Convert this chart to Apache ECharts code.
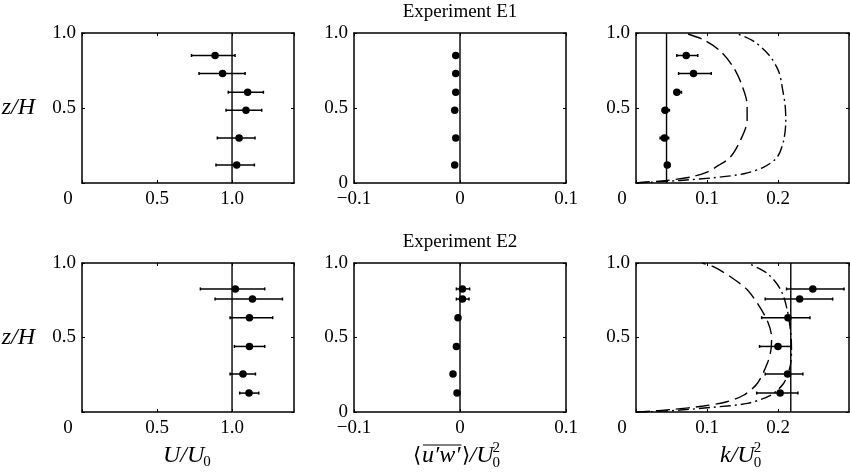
<!DOCTYPE html>
<html><head><meta charset="utf-8">
<script src="https://cdn.jsdelivr.net/npm/echarts/dist/echarts.min.js"></script>
<style>html,body{margin:0;padding:0;background:#fff}#c{width:850px;height:473px}</style>
</head><body><div id="c"></div>
<script>
// ---- data ----
const zE1 = [0.85, 0.73, 0.605, 0.485, 0.30, 0.12];
const zE2 = [0.826, 0.758, 0.633, 0.44, 0.255, 0.127];

const U1   = [0.887, 0.937, 1.104, 1.093, 1.047, 1.031];
const U1lo = [0.73, 0.78, 0.975, 0.96, 0.902, 0.893];
const U1hi = [1.02, 1.087, 1.209, 1.198, 1.153, 1.149];

const uw1  = [-0.004, -0.004, -0.004, -0.005, -0.004, -0.005];

const k1   = [0.0707, 0.081, 0.0575, 0.041, 0.040, 0.044];
const k1lo = [0.0575, 0.060, 0.054, 0.037, 0.034, 0.041];
const k1hi = [0.087, 0.106, 0.064, 0.047, 0.046, 0.047];

const U2   = [1.022, 1.136, 1.116, 1.116, 1.073, 1.113];
const U2lo = [0.789, 0.887, 0.987, 1.016, 0.987, 1.051];
const U2hi = [1.218, 1.336, 1.271, 1.218, 1.156, 1.178];

const uw2   = [0.0023, 0.0023, -0.0019, -0.0034, -0.0066, -0.0028];
const uw2lo = [-0.0034, -0.0034, null, null, null, null];
const uw2hi = [0.0091, 0.0085, null, null, null, null];

const k2   = [0.249, 0.2305, 0.214, 0.200, 0.2135, 0.203];
const k2lo = [0.212, 0.182, 0.177, 0.174, 0.182, 0.170];
const k2hi = [0.293, 0.277, 0.245, 0.218, 0.235, 0.228];

// reference (vertical) lines
const refU = 1.0, refUW = 0, refK1 = 0.043, refK2 = 0.218;

// model curves [k, z]
const dash1 = [[0,0],[0.01,0.005],[0.043,0.017],[0.076,0.039],[0.100,0.072],[0.116,0.117],[0.133,0.173],[0.147,0.284],[0.1565,0.418],[0.1565,0.52],[0.149,0.654],[0.138,0.766],[0.119,0.878],[0.095,0.955],[0.069,1.0]];
const dot1  = [[0,0],[0.02,0.005],[0.062,0.017],[0.109,0.035],[0.152,0.062],[0.180,0.106],[0.199,0.173],[0.208,0.284],[0.211,0.418],[0.210,0.52],[0.207,0.61],[0.201,0.744],[0.187,0.855],[0.166,0.944],[0.14,1.0]];
const dash2 = [[0,0],[0.01,0.002],[0.053,0.018],[0.095,0.040],[0.128,0.069],[0.152,0.114],[0.171,0.193],[0.185,0.327],[0.190,0.416],[0.191,0.5],[0.186,0.6],[0.174,0.707],[0.157,0.819],[0.133,0.908],[0.109,0.975],[0.093,1.0]];
const dot2  = [[0,0],[0.02,0.002],[0.062,0.013],[0.109,0.032],[0.157,0.058],[0.190,0.114],[0.208,0.193],[0.217,0.304],[0.219,0.416],[0.218,0.528],[0.213,0.685],[0.204,0.819],[0.185,0.93],[0.157,1.0]];

const yTicks = [0, 0.5, 1.0];

// ---- chart ----
const FONT = 'Liberation Serif';
const chart = echarts.init(document.getElementById('c'));

const panels = [
  {g:{left:82, top:33, width:212, height:150}, xmin:0, xmax:1.413, xint:0.5, kind:'u', z:zE1, x:U1, lo:U1lo, hi:U1hi, ref:refU},
  {g:{left:354, top:33, width:212, height:150}, xmin:-0.1, xmax:0.1, xint:0.1, kind:'m', z:zE1, x:uw1, lo:null, hi:null, ref:refUW},
  {g:{left:636, top:33, width:213, height:150}, xmin:0, xmax:0.3, xint:0.1, kind:'k', z:zE1, x:k1, lo:k1lo, hi:k1hi, ref:refK1, dash:dash1, dot:dot1},
  {g:{left:82, top:263, width:212, height:149}, xmin:0, xmax:1.413, xint:0.5, kind:'u', z:zE2, x:U2, lo:U2lo, hi:U2hi, ref:refU},
  {g:{left:354, top:263, width:212, height:149}, xmin:-0.1, xmax:0.1, xint:0.1, kind:'m', z:zE2, x:uw2, lo:uw2lo, hi:uw2hi, ref:refUW},
  {g:{left:636, top:263, width:213, height:149}, xmin:0, xmax:0.3, xint:0.1, kind:'k', z:zE2, x:k2, lo:k2lo, hi:k2hi, ref:refK2, dash:dash2, dot:dot2}
];

const grid = [], xAxis = [], yAxis = [], series = [];
const lineBox = {show:true, onZero:false, lineStyle:{color:'#000', width:1.5}};
const tick = {show:true, inside:true, length:3, lineStyle:{color:'#000', width:1}};
const lab = {color:'#000', fontFamily:FONT, fontSize:19};

panels.forEach((p, i) => {
  grid.push(p.g);
  const xFmt = v => {
    if (Math.abs(v) < 1e-9) return p.kind === 'm' ? '0' : '{o|0}';
    if (p.kind === 'u') return v.toFixed(1);
    const s = (Math.round(v * 10) / 10).toString();
    return s.replace('-', '\u2212');
  };
  xAxis.push({type:'value', gridIndex:i, min:p.xmin, max:p.xmax, interval:p.xint, position:'bottom',
    axisLine:lineBox, axisTick:tick, splitLine:{show:false},
    axisLabel:Object.assign({margin:7, formatter:xFmt, showMaxLabel: p.kind === 'm',
      rich:{o:{color:'#000', fontFamily:FONT, fontSize:19, padding:[0,28,0,0]}}}, lab)});
  xAxis.push({type:'value', gridIndex:i, min:p.xmin, max:p.xmax, interval:p.xint, position:'top',
    axisLine:lineBox, axisTick:tick, splitLine:{show:false}, axisLabel:{show:false}});
  const yFmt = v => {
    if (Math.abs(v) < 1e-9) return p.kind === 'm' ? '0' : '';
    return v.toFixed(1);
  };
  yAxis.push({type:'value', gridIndex:i, min:0, max:1, interval:0.5, position:'left',
    axisLine:lineBox, axisTick:tick, splitLine:{show:false},
    axisLabel:Object.assign({margin:6, formatter:yFmt}, lab)});
  yAxis.push({type:'value', gridIndex:i, min:0, max:1, interval:0.5, position:'right',
    axisLine:lineBox, axisTick:tick, splitLine:{show:false}, axisLabel:{show:false}});

  const xi = 2 * i, yi = 2 * i;
  // vertical reference line
  series.push({type:'line', xAxisIndex:xi, yAxisIndex:yi, data:[[p.ref,0],[p.ref,1]], symbol:'none',
    lineStyle:{color:'#000', width:1.4}, silent:true, z:2});
  // model curves
  if (p.dash) {
    series.push({type:'line', xAxisIndex:xi, yAxisIndex:yi, data:p.dash, symbol:'none', smooth:0.3,
      lineStyle:{color:'#000', width:1.4, type:[14,6]}, silent:true, z:2});
    series.push({type:'line', xAxisIndex:xi, yAxisIndex:yi, data:p.dot, symbol:'none', smooth:0.3,
      lineStyle:{color:'#000', width:1.4, type:[11,4,2,4]}, silent:true, z:2});
  }
  // error bars
  if (p.lo) {
    const eb = [];
    p.z.forEach((zz, j) => { if (p.lo[j] != null) eb.push([p.lo[j], p.hi[j], zz]); });
    series.push({type:'custom', xAxisIndex:xi, yAxisIndex:yi, data:eb, encode:{x:[0,1], y:2}, z:3, silent:true,
      renderItem:(params, api) => {
        const a = api.coord([api.value(0), api.value(2)]);
        const b = api.coord([api.value(1), api.value(2)]);
        const st = {stroke:'#000', lineWidth:1.5};
        return {type:'group', children:[
          {type:'line', shape:{x1:a[0], y1:a[1], x2:b[0], y2:b[1]}, style:st},
          {type:'line', shape:{x1:a[0], y1:a[1]-1.5, x2:a[0], y2:a[1]+1.5}, style:st},
          {type:'line', shape:{x1:b[0], y1:b[1]-1.5, x2:b[0], y2:b[1]+1.5}, style:st}
        ]};
      }});
  }
  // points
  series.push({type:'scatter', xAxisIndex:xi, yAxisIndex:yi, data:p.x.map((v, j) => [v, p.z[j]]),
    symbol:'circle', symbolSize:7.5, itemStyle:{color:'#000', opacity:1}, z:4, silent:true});
});

// ---- axis titles laid out piece by piece using measured text widths ----
const mctx = document.createElement('canvas').getContext('2d');
function fontOf(size, italic) { return (italic ? 'italic ' : '') + size + 'px "' + FONT + '"'; }
function width(text, size, italic) { mctx.font = fontOf(size, italic); return mctx.measureText(text).width; }
function txt(x, y, text, size, opts) {
  opts = opts || {};
  return {type:'text', x:x, y:y, silent:true, style:{text:text, fill:'#000',
    font:fontOf(size, opts.italic),
    align:opts.align || 'left', textAlign:opts.align || 'left',
    verticalAlign:'middle', textVerticalAlign:'middle'}};
}
const TS = 24, SS = 15, TY = 456;
const graphic = [
  txt(460, 12, 'Experiment E1', 19, {align:'center'}),
  txt(460, 242, 'Experiment E2', 19, {align:'center'}),
  txt(35, 108, 'z/H', TS, {italic:true, align:'right'}),
  txt(35, 338, 'z/H', TS, {italic:true, align:'right'})
];
// U/U0
(function () {
  let x = 163;
  graphic.push(txt(x, TY, 'U/U', TS, {italic:true}));
  x += width('U/U', TS, true) - 1;
  graphic.push(txt(x, TY + 6, '0', SS));
})();
// <u'w'>/U0^2
(function () {
  let x = 413;
  graphic.push(txt(x, TY, '\u27E8', 21));
  x += width('\u27E8', 21, false) + 1;
  const s = "u\u2032w\u2032";
  const w = width(s, TS, true);
  graphic.push(txt(x, TY, s, TS, {italic:true}));
  graphic.push({type:'line', silent:true, shape:{x1:x + 1, y1:445, x2:x + w + 1, y2:445}, style:{stroke:'#000', lineWidth:1.2}});
  x += w + 1;
  graphic.push(txt(x, TY, '\u27E9', 21));
  x += width('\u27E9', 21, false);
  graphic.push(txt(x, TY, '/U', TS, {italic:true}));
  x += width('/U', TS, true) - 1;
  graphic.push(txt(x, TY - 8, '2', SS));
  graphic.push(txt(x, TY + 7, '0', SS));
})();
// k/U0^2
(function () {
  let x = 720;
  graphic.push(txt(x, TY, 'k/U', TS, {italic:true}));
  x += width('k/U', TS, true) - 1;
  graphic.push(txt(x, TY - 8, '2', SS));
  graphic.push(txt(x, TY + 7, '0', SS));
})();

chart.setOption({animation:false, backgroundColor:'#fff', grid, xAxis, yAxis, series, graphic});
</script></body></html>
